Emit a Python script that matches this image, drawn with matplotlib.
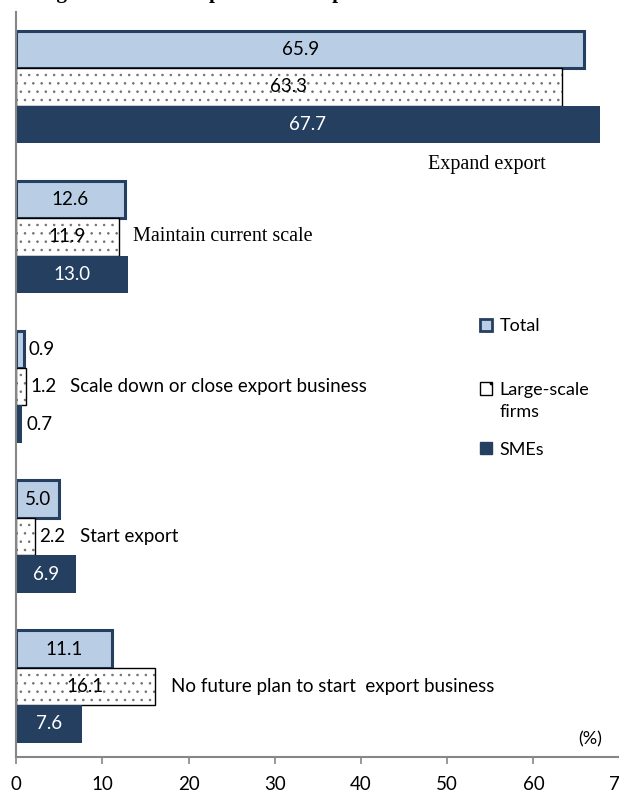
import numpy as np
import matplotlib.pyplot as plt
from matplotlib.patches import Patch

# export plan categories, top to bottom
plans = [
    "Expand export",
    "Maintain current scale",
    "Scale down or close export business",
    "Start export",
    "No future plan to start  export business",
]
total = [65.9, 12.6, 0.9, 5.0, 11.1]
large = [63.3, 11.9, 1.2, 2.2, 16.1]
smes = [67.7, 13.0, 0.7, 6.9, 7.6]

xticks = [0, 10, 20, 30, 40, 50, 60, 70]

SANS = "Lato"
SERIF = "Liberation Serif"
NAVY = "#243f60"
LIGHT = "#b9cde5"
AXIS_GREY = "#868686"
FS = 13.5

plt.rcParams["font.family"] = SANS
plt.rcParams["hatch.linewidth"] = 0.6

fig = plt.figure(figsize=(6.19, 7.99), dpi=100)
ax = fig.add_axes([0.026, 0.0526, 0.975, 0.9324])

y = np.arange(len(plans))
h = 0.25

ax.barh(y - h, total, height=h, color=LIGHT, edgecolor=NAVY, linewidth=2.2)
# dotted fill for large firms, outline drawn separately so dots stay grey
ax.barh(y, large, height=h, color="white", edgecolor="#707070", hatch="..", linewidth=0)
ax.barh(y, large, height=h, fill=False, edgecolor="black", linewidth=1.0)
ax.barh(y + h, smes, height=h, color=NAVY, edgecolor=NAVY, linewidth=0)


def value_label(yy, val, color="black"):
    if val >= 4:
        ax.text(val / 2, yy, f"{val:.1f}", ha="center", va="center",
                fontsize=FS, color=color)
    else:
        ax.annotate(f"{val:.1f}", (val, yy), xytext=(3, 0), textcoords="offset points",
                    ha="left", va="center", fontsize=FS, color="black")


for i in range(len(plans)):
    value_label(y[i] - h, total[i])
    value_label(y[i], large[i])
    value_label(y[i] + h, smes[i], color="white")

# category labels next to each group
ax.text(61.4, 0.52, plans[0], ha="right", va="center", fontsize=14.5, family=SERIF)
ax.text(13.6, 1.0, plans[1], ha="left", va="center", fontsize=14.5, family=SERIF)
ax.text(6.3, 2.0, plans[2], ha="left", va="center", fontsize=FS)
ax.text(7.4, 3.0, plans[3], ha="left", va="center", fontsize=FS)
ax.text(18.0, 4.0, plans[4], ha="left", va="center", fontsize=FS)

ax.text(0.952, 0.023, "(%)", transform=ax.transAxes, ha="center", va="center", fontsize=13)

ax.set_xlim(0, 70)
ax.set_ylim(4.47, -0.5)
ax.set_xticks(xticks)
ax.set_xticklabels([str(t) for t in xticks], fontsize=FS)
ax.set_yticks([])
ax.tick_params(axis="x", length=5, width=1.2, color=AXIS_GREY, pad=9, direction="out")
for side in ["top", "right"]:
    ax.spines[side].set_visible(False)
for side in ["left", "bottom"]:
    ax.spines[side].set_color(AXIS_GREY)
    ax.spines[side].set_linewidth(1.5)

leg_kw = dict(frameon=False, fontsize=13, handlelength=0.7, handleheight=0.7,
              handletextpad=0.4, borderaxespad=0, borderpad=0)
leg1 = ax.legend([Patch(facecolor=LIGHT, edgecolor=NAVY, linewidth=2)], ["Total"],
                 loc="upper left", bbox_to_anchor=(0.768, 0.589), **leg_kw)
ax.add_artist(leg1)
leg2 = ax.legend([Patch(facecolor="white", edgecolor="black", hatch=".", linewidth=1),
                  Patch(facecolor=NAVY, edgecolor=NAVY)],
                 ["Large-scale\nfirms", "SMEs"],
                 loc="upper left", bbox_to_anchor=(0.768, 0.503), labelspacing=1.2, **leg_kw)
leg2.get_texts()[0].set_linespacing(1.45)
# keep each legend key level with the first line of its label
for column in leg2._legend_handle_box.get_children():
    for item in column.get_children():
        item.align = "top"

# heading sits above the cropped top edge
fig.text(0.062, 1 + 2.0 / 799, "Figure 1  Future export business plans", ha="left",
         va="baseline", fontsize=15, fontweight="bold", family=SERIF)

fig.savefig("out.png", dpi=100)
